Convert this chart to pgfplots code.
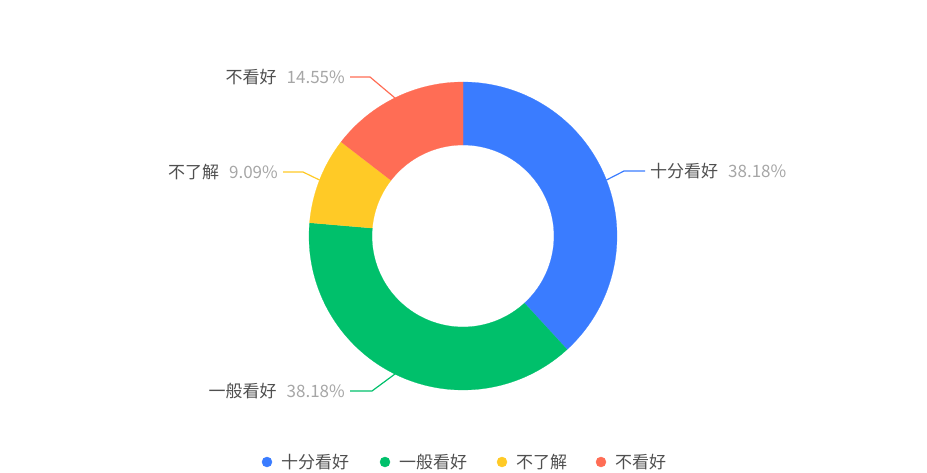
\documentclass[border=0pt]{standalone}
\usepackage{pgfplots}
\pgfplotsset{compat=1.18}
\usepackage{fontspec}
\setmainfont{Noto Sans CJK SC}
\definecolor{cblue}{HTML}{3A7CFF}
\definecolor{cgreen}{HTML}{00C06B}
\definecolor{cyellow}{HTML}{FFCA26}
\definecolor{cred}{HTML}{FF6D55}
\definecolor{namec}{HTML}{4F4F4F}
\definecolor{pctc}{HTML}{A6A6A6}
% sector from cumulative percent #1 to #2, colour #3
\newcommand{\sector}[3]{%
  \addplot[fill=#3, draw=#3, line width=0.2pt, domain=0:3, samples=301, variable=\t]
  ({463+(\t<1 ? 154 : (\t<2 ? 154-63*(\t-1) : 91))*cos(\t<1 ? (90-3.6*#1)+3.6*(#1-#2)*\t : (\t<2 ? (90-3.6*#2) : (90-3.6*#2)+3.6*(#2-#1)*(\t-2)))},
   {236+(\t<1 ? 154 : (\t<2 ? 154-63*(\t-1) : 91))*sin(\t<1 ? (90-3.6*#1)+3.6*(#1-#2)*\t : (\t<2 ? (90-3.6*#2) : (90-3.6*#2)+3.6*(#2-#1)*(\t-2)))});
}
\newcommand{\lf}{\fontsize{17}{19}\selectfont}
\begin{document}
\begin{tikzpicture}
\begin{axis}[x=1pt, y=1pt, xmin=0, xmax=927, ymin=0, ymax=472,
  hide axis, clip=false, scale only axis]
\path (axis cs:0,0) rectangle (axis cs:927,472);
% data: 38.18, 38.18, 9.09, 14.55 (percent)
\sector{0}{38.18}{cblue}
\sector{38.18}{76.36}{cgreen}
\sector{76.36}{85.45}{cyellow}
\sector{85.45}{100}{cred}
% leader lines
\addplot[cblue, line width=1.2pt] coordinates {(606.5,292) (624,301) (645,301)};
\addplot[cgreen, line width=1.2pt] coordinates {(395,98) (372,81) (350,81)};
\addplot[cyellow, line width=1.2pt] coordinates {(319.5,292) (303,300) (283,300)};
\addplot[cred, line width=1.2pt] coordinates {(395,374) (370,395) (350,395)};
% labels
\node[anchor=west, inner sep=0pt, font=\lf] at (axis cs:650,301) {\textcolor{namec}{十分看好}\hspace{10pt}\textcolor{pctc}{38.18\%}};
\node[anchor=east, inner sep=0pt, font=\lf] at (axis cs:345,81) {\textcolor{namec}{一般看好}\hspace{10pt}\textcolor{pctc}{38.18\%}};
\node[anchor=east, inner sep=0pt, font=\lf] at (axis cs:278,300) {\textcolor{namec}{不了解}\hspace{10pt}\textcolor{pctc}{9.09\%}};
\node[anchor=east, inner sep=0pt, font=\lf] at (axis cs:345,395) {\textcolor{namec}{不看好}\hspace{10pt}\textcolor{pctc}{14.55\%}};
% legend
\addplot[only marks, mark=*, mark size=5pt, cblue] coordinates {(267,10)};
\addplot[only marks, mark=*, mark size=5pt, cgreen] coordinates {(385,10)};
\addplot[only marks, mark=*, mark size=5pt, cyellow] coordinates {(502,10)};
\addplot[only marks, mark=*, mark size=5pt, cred] coordinates {(601,10)};
\node[anchor=west, inner sep=0pt, text=namec, font=\lf] at (axis cs:281,10) {十分看好};
\node[anchor=west, inner sep=0pt, text=namec, font=\lf] at (axis cs:399,10) {一般看好};
\node[anchor=west, inner sep=0pt, text=namec, font=\lf] at (axis cs:516,10) {不了解};
\node[anchor=west, inner sep=0pt, text=namec, font=\lf] at (axis cs:615,10) {不看好};
\end{axis}
\end{tikzpicture}
\end{document}
